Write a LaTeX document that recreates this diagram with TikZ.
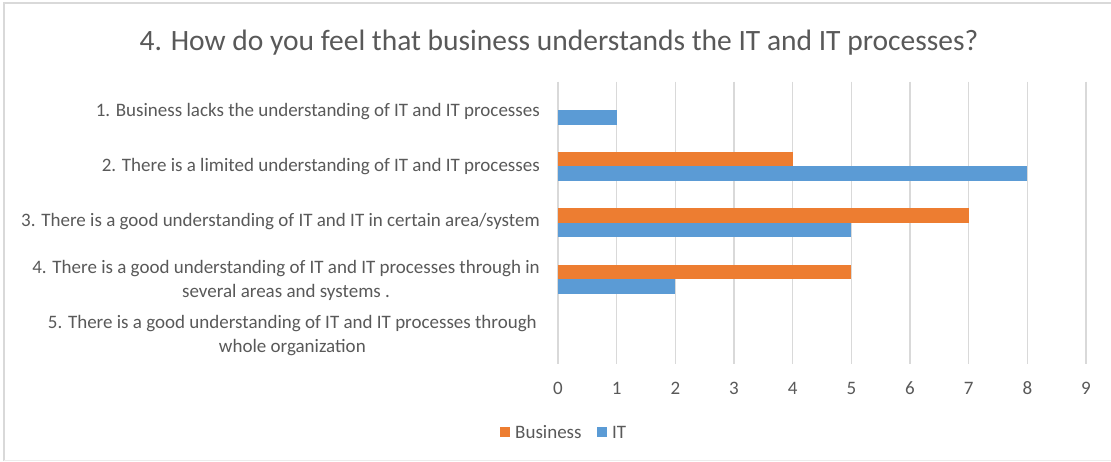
\documentclass[tikz,border=0pt]{standalone}
\usepackage{fontspec}
\setmainfont{Carlito}
\definecolor{bizc}{HTML}{ED7D31}
\definecolor{itc}{HTML}{5B9BD5}
\definecolor{gridc}{HTML}{D9D9D9}
\definecolor{txtc}{HTML}{595959}
\begin{document}
\begin{tikzpicture}[x=1pt,y=-1pt,
  lbl/.style={text=txtc,font=\fontsize{19}{24}\selectfont,anchor=east,align=center,inner sep=0pt},
  tick/.style={text=txtc,font=\fontsize{19}{22}\selectfont,inner sep=0pt},
  bizbar/.style={fill=bizc,draw=none},
  itbar/.style={fill=itc,draw=none},
  gridline/.style={draw=gridc,line width=1.3pt}]
\useasboundingbox (0,0) rectangle (1111,461);
\fill[white] (0,0) rectangle (1111,461);
\draw[gridc,line width=2pt] (3.5,461) -- (3.5,2.5) -- (1111,2.5);
\draw[gridc!50,line width=1pt] (3.5,460) -- (1111,460);
\node[text=txtc,font=\fontsize{29.5}{32}\selectfont,inner sep=0pt] (title) at (559,43) {4. How do you feel that business understands the IT and IT processes?};
% grid
\foreach \i in {0,...,9} {
  \draw[gridline] ({558+\i*58.67},81.7) -- ({558+\i*58.67},364.2);
  \node[tick] (t\i) at ({558+\i*58.67},388) {\i};
}
\def\ux{58.67}
\def\bh{14.5}
% cat1
\fill[itbar] (558,110) rectangle ({558+1*\ux},{110+\bh});
% cat2
\fill[bizbar] (558,{166-\bh}) rectangle ({558+4*\ux},166);
\fill[itbar] (558,166) rectangle ({558+8*\ux},{166+\bh});
% cat3
\fill[bizbar] (558,{222.6-\bh}) rectangle ({558+7*\ux},222.6);
\fill[itbar] (558,222.6) rectangle ({558+5*\ux},{222.6+\bh});
% cat4
\fill[bizbar] (558,{279.1-\bh}) rectangle ({558+5*\ux},279.1);
\fill[itbar] (558,279.1) rectangle ({558+2*\ux},{279.1+\bh});
% labels
\node[lbl] (c1) at (540,112) {1. Business lacks the understanding of IT and IT processes};
\node[lbl] (c2) at (540,167) {2. There is a limited understanding of IT and IT processes};
\node[lbl] (c3) at (540,222) {3. There is a good understanding of IT and IT in certain area/system};
\node[lbl] (c4) at (540,280) {4. There is a good understanding of IT and IT processes through in\\several areas and systems .};
\node[lbl] (c5) at (537,336) {5. There is a good understanding of IT and IT processes through\\whole organization};
% legend
\fill[bizc] (500,427) rectangle (510,437);
\node[tick,anchor=west] (lb) at (515,432) {Business};
\fill[itc] (597,427) rectangle (607,437);
\node[tick,anchor=west] (li) at (612,432) {IT};
\end{tikzpicture}
\end{document}
